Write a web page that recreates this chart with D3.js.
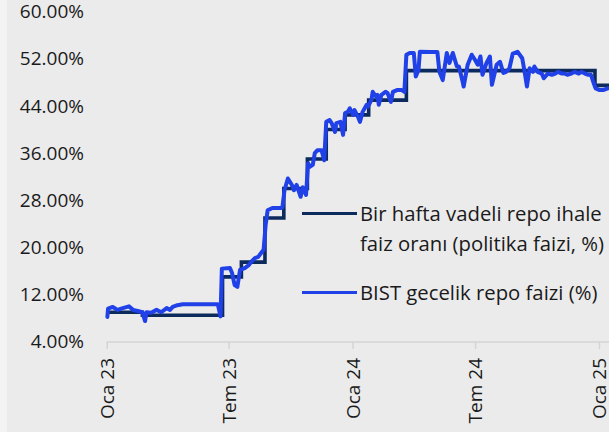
<!DOCTYPE html>
<html><head><meta charset="utf-8">
<script src="https://cdn.jsdelivr.net/npm/d3@7/dist/d3.min.js"></script>
<style>
html,body{margin:0;padding:0;background:#ebebeb;}
svg{display:block;}
text{font-family:"Open Sans",sans-serif;fill:#1a1a1a;}
</style></head>
<body>
<svg id="chart" width="609" height="432"></svg>
<script>
// ---- data ----
const yTicks = [4, 12, 20, 28, 36, 44, 52, 60];
const xTickDates = ["2023-01-01", "2023-07-01", "2024-01-01", "2024-07-01", "2025-01-01"];
const xTickLabels = ["Oca 23", "Tem 23", "Oca 24", "Tem 24", "Oca 25"];
const seriesNames = ["Bir hafta vadeli repo ihale|faiz oranı (politika faizi, %)", "BIST gecelik repo faizi (%)"];

const policyDates = ["2023-01-01","2023-02-23","2023-06-22","2023-07-20","2023-08-24","2023-09-21","2023-10-26","2023-11-23","2023-12-21","2024-01-25","2024-03-21","2024-12-26","2025-01-16"];
const policyValues = [9, 8.5, 15, 17.5, 25, 30, 35, 40, 42.5, 45, 50, 47.5, 47.5];

const bistDates = ["2023-01-02","2023-01-03","2023-01-10","2023-01-17","2023-01-25","2023-02-03","2023-02-09","2023-02-16","2023-02-23","2023-02-27","2023-03-01","2023-03-08","2023-03-16","2023-03-23","2023-03-31","2023-04-05","2023-04-09","2023-04-16","2023-04-24","2023-06-15","2023-06-19","2023-06-21","2023-07-03","2023-07-06","2023-07-10","2023-07-14","2023-07-18","2023-07-25","2023-07-31","2023-08-04","2023-08-09","2023-08-14","2023-08-18","2023-08-22","2023-08-25","2023-08-28","2023-09-04","2023-09-18","2023-09-19","2023-09-22","2023-09-27","2023-10-03","2023-10-06","2023-10-10","2023-10-16","2023-10-19","2023-10-24","2023-10-27","2023-10-30","2023-11-03","2023-11-06","2023-11-10","2023-11-16","2023-11-20","2023-11-23","2023-11-28","2023-12-01","2023-12-06","2023-12-08","2023-12-14","2023-12-18","2023-12-21","2023-12-25","2023-12-28","2024-01-02","2024-01-04","2024-01-09","2024-01-12","2024-01-16","2024-01-22","2024-01-24","2024-01-29","2024-01-31","2024-02-05","2024-02-07","2024-02-09","2024-02-13","2024-02-19","2024-02-22","2024-02-27","2024-03-01","2024-03-07","2024-03-14","2024-03-18","2024-03-21","2024-03-26","2024-04-01","2024-04-04","2024-04-08","2024-04-10","2024-04-25","2024-05-06","2024-05-09","2024-05-14","2024-05-20","2024-05-24","2024-05-29","2024-06-04","2024-06-07","2024-06-13","2024-06-14","2024-06-20","2024-06-26","2024-07-01","2024-07-05","2024-07-09","2024-07-12","2024-07-18","2024-07-23","2024-07-26","2024-08-02","2024-08-07","2024-08-12","2024-08-16","2024-08-21","2024-08-26","2024-09-02","2024-09-09","2024-09-13","2024-09-16","2024-09-20","2024-09-25","2024-09-27","2024-10-02","2024-10-08","2024-10-11","2024-10-17","2024-10-23","2024-10-28","2024-11-01","2024-11-07","2024-11-11","2024-11-15","2024-11-21","2024-11-26","2024-12-02","2024-12-06","2024-12-11","2024-12-16","2024-12-20","2024-12-24","2024-12-27","2025-01-02","2025-01-07","2025-01-14"];
const bistValues = [8.2,9.6,9.9,9.4,9.7,10.0,9.4,9.2,9.0,7.5,9.0,8.9,9.4,9.0,9.7,9.4,9.9,10.2,10.35,10.35,8.3,16.4,16.5,15.7,13.6,13.3,16.2,16.5,17.0,17.6,18.2,18.4,19.0,19.6,23.8,26.3,26.7,26.7,26.9,29.7,31.7,30.6,29.7,30.6,28.6,30.2,28.9,34.3,33.7,34.0,36.0,36.5,36.5,34.8,41.3,41.6,41.1,39.6,41.1,41.3,39.1,42.8,43.0,43.6,42.5,43.3,42.2,41.3,43.0,44.2,43.9,45.0,46.4,45.6,45.9,44.2,45.9,46.4,46.2,44.7,46.4,46.7,46.7,46.4,52.7,53.0,53.0,49.0,50.1,53.2,53.15,53.15,49.8,48.4,53.0,51.3,53.0,50.7,50.7,47.9,47.3,51.0,52.7,51.8,51.0,52.4,49.3,51.3,52.4,47.6,51.0,51.5,49.6,49.8,50.4,52.9,53.2,52.1,49.5,47.3,50.4,49.8,50.7,49.8,49.5,48.7,49.5,49.3,49.5,49.8,49.5,49.5,49.3,49.5,49.8,49.5,49.8,49.5,49.3,49.3,47.9,47.0,46.7,46.7,47.0];

// ---- drawing ----
const parse = d3.timeParse("%Y-%m-%d");
const svg = d3.select("#chart");
const W = 609, H = 432;
const colPolicy = "#0d2a5c", colBist = "#2040e8";

svg.append("rect").attr("width", W).attr("height", H).attr("fill", "#ebebeb");
svg.append("rect").attr("width", 7).attr("height", H).attr("fill", "#f3f3f3");

const x = d3.scaleTime().domain([parse("2023-01-01"), parse("2025-01-01")]).range([106.7, 599]);
const y = d3.scaleLinear().domain([4, 60]).range([341.7, 11.7]);

const policy = policyDates.map((d, i) => ({date: parse(d), v: policyValues[i]}));
const bist = bistDates.map((d, i) => ({date: parse(d), v: bistValues[i]}));

// y axis labels
const yAxis = d3.axisLeft(y).tickValues(yTicks).tickSize(0).tickPadding(22.7).tickFormat(d => d.toFixed(2) + "%");
const gy = svg.append("g").attr("transform", "translate(106.7,0)").call(yAxis);
gy.select(".domain").remove();
gy.selectAll("text").style("font-family", '"Open Sans",sans-serif').style("font-size", "19px").attr("fill", "#1a1a1a");

// x axis
const xAxis = d3.axisBottom(x).tickValues(xTickDates.map(parse)).tickSize(7).tickSizeOuter(0)
  .tickFormat((d, i) => xTickLabels[i]);
const gx = svg.append("g").attr("transform", "translate(0,342)").call(xAxis);
gx.select(".domain").remove();
gx.append("line").attr("x1", 106.7).attr("x2", W).attr("y1", 0).attr("y2", 0).attr("stroke", "#d4d4d4").attr("stroke-width", 1.5);
gx.selectAll(".tick line").attr("stroke", "#d4d4d4").attr("stroke-width", 1.5);
gx.selectAll(".tick text")
  .attr("transform", "rotate(-90)").attr("x", -16).attr("y", 0).attr("dy", "0.36em")
  .attr("text-anchor", "end").style("font-family", '"Open Sans",sans-serif').style("font-size", "19px").attr("fill", "#1a1a1a");

// lines
const linePolicy = d3.line().x(d => x(d.date)).y(d => y(d.v)).curve(d3.curveStepAfter);
const lineBist = d3.line().x(d => x(d.date)).y(d => y(d.v)).curve(d3.curveLinear);

svg.append("path").datum(policy).attr("d", linePolicy).attr("fill", "none")
  .attr("stroke", colPolicy).attr("stroke-width", 3.6).attr("stroke-linejoin", "miter");
svg.append("path").datum(bist).attr("d", lineBist).attr("fill", "none")
  .attr("stroke", colBist).attr("stroke-width", 4).attr("stroke-linejoin", "round").attr("stroke-linecap", "round");

// legend
const legend = svg.append("g");
const legendItems = [
  {name: seriesNames[0], color: colPolicy, ly: 213.5},
  {name: seriesNames[1], color: colBist, ly: 292.5}
];
legendItems.forEach(it => {
  legend.append("line").attr("x1", 302).attr("x2", 357).attr("y1", it.ly).attr("y2", it.ly)
    .attr("stroke", it.color).attr("stroke-width", 3);
  const lines = it.name.split("|");
  lines.forEach((t, k) => {
    legend.append("text").attr("x", 360).attr("y", it.ly + k * 30).attr("dy", "0.35em")
      .style("font-size", "20.3px").text(t);
  });
});
</script>
</body></html>
